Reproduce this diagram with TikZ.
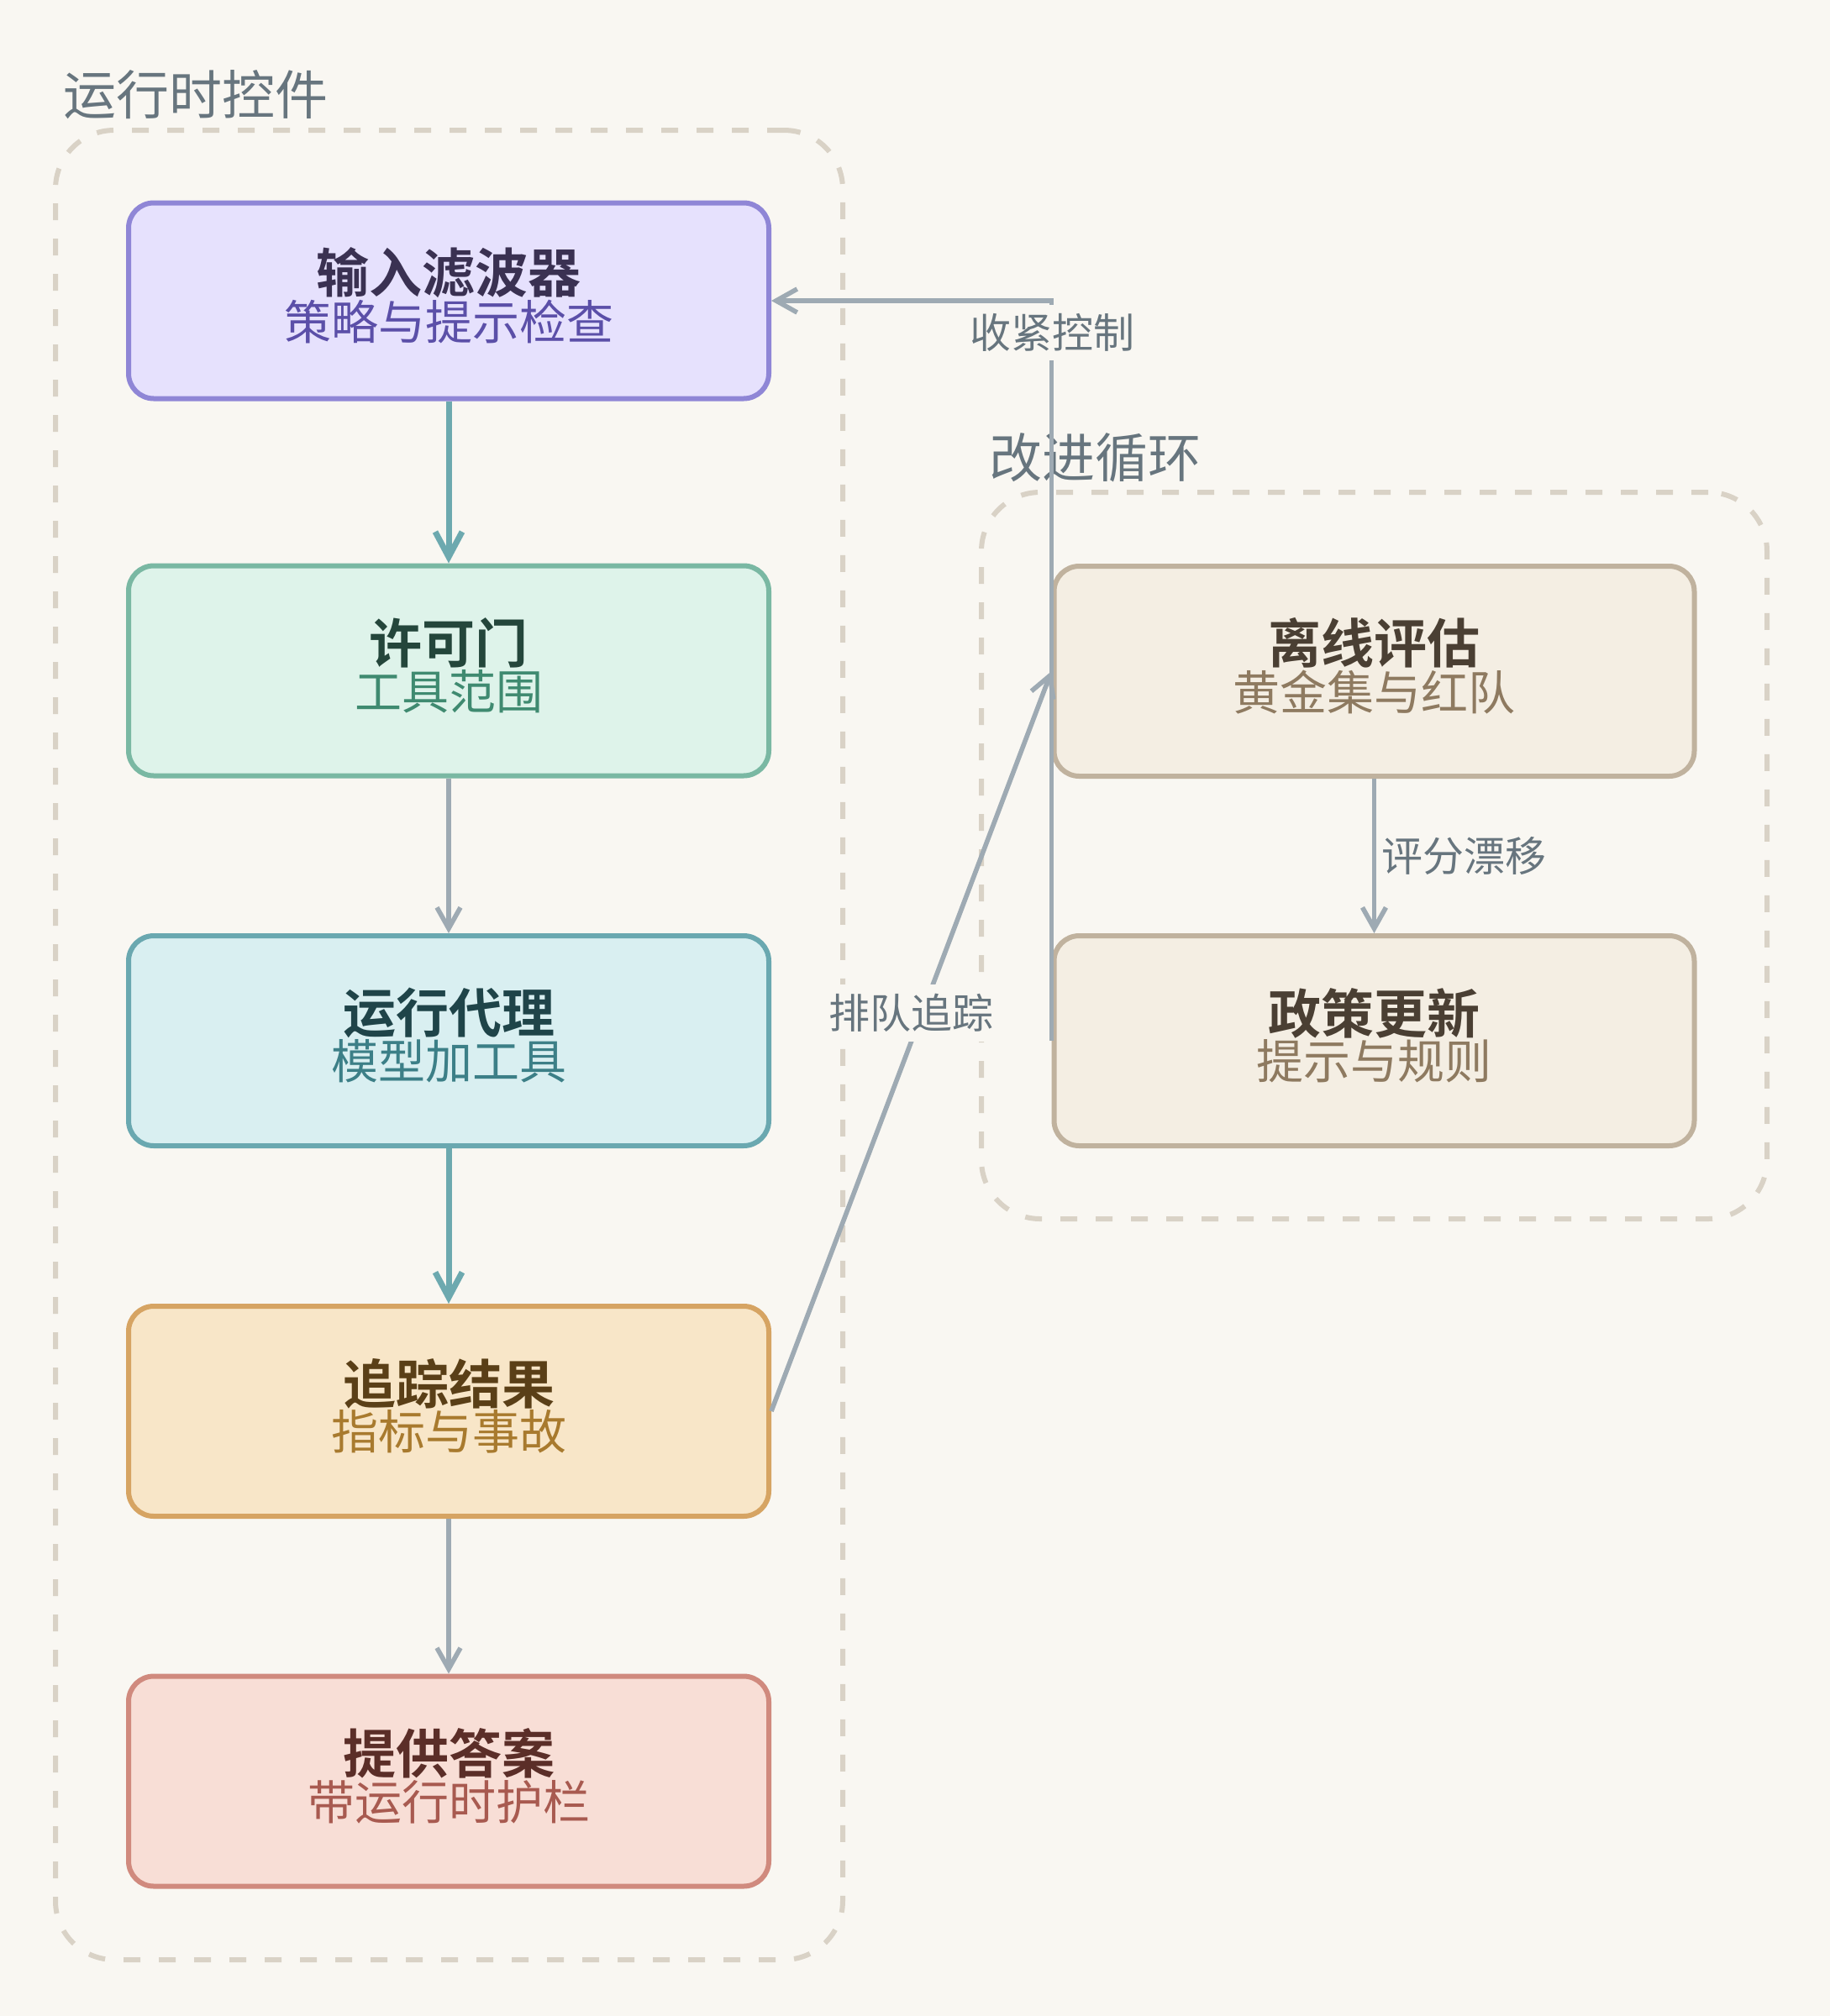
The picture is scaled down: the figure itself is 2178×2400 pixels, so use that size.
\documentclass[tikz,border=0pt]{standalone}
\usepackage{fontspec}
\setmainfont{Noto Sans CJK SC}[BoldFont={Noto Sans CJK SC Bold}]
\usetikzlibrary{arrows.meta}
\definecolor{bg}{HTML}{F9F7F2}
\definecolor{clus}{HTML}{D9D2C6}
\definecolor{lbl}{HTML}{67757E}
\definecolor{teal}{HTML}{6DA9AF}
\definecolor{grayedge}{HTML}{9EAAB3}
\definecolor{f1}{HTML}{E6E1FD}\definecolor{d1}{HTML}{8F86D6}\definecolor{t1}{HTML}{3A3152}\definecolor{s1}{HTML}{5B4FA8}
\definecolor{f2}{HTML}{DEF3EA}\definecolor{d2}{HTML}{7AB8A3}\definecolor{t2}{HTML}{24463B}\definecolor{s2}{HTML}{3F8A70}
\definecolor{f3}{HTML}{D9EFF1}\definecolor{d3}{HTML}{6AA8B0}\definecolor{t3}{HTML}{1F4449}\definecolor{s3}{HTML}{3C7F87}
\definecolor{f4}{HTML}{F8E6C8}\definecolor{d4}{HTML}{D6A463}\definecolor{t4}{HTML}{5A3F17}\definecolor{s4}{HTML}{A87A2E}
\definecolor{f5}{HTML}{F8DED6}\definecolor{d5}{HTML}{D08A7E}\definecolor{t5}{HTML}{5B2E28}\definecolor{s5}{HTML}{A85A50}
\definecolor{f6}{HTML}{F4EEE3}\definecolor{d6}{HTML}{C0B29E}\definecolor{t6}{HTML}{4A3F33}\definecolor{s6}{HTML}{8E7A60}
\newcommand{\boxtext}[4]{{\color{#1}\fontsize{31.5pt}{29pt}\selectfont\bfseries #2}\\{\color{#3}\fontsize{28pt}{29pt}\selectfont #4\rule[-8.5pt]{0pt}{0pt}}}
\begin{document}
\begin{tikzpicture}[x=0.5pt,y=-0.5pt,
  card/.style={rectangle, rounded corners=15pt, line width=3pt, minimum width=381pt, minimum height=125pt, align=center, inner sep=0pt},
  cluster/.style={rectangle, draw=clus, line width=3pt, dash pattern=on 10pt off 11pt, rounded corners=35pt, inner sep=0pt},
  ctitle/.style={anchor=west, text=lbl, font=\fontsize{31.5pt}{34pt}\selectfont, inner sep=0pt},
  elabel/.style={text=lbl, font=\fontsize{24.5pt}{26pt}\selectfont},
  tealarrow/.style={draw=teal, line width=3.5pt, -{Straight Barb[length=15pt,width=16pt]}},
  grayarrow/.style={draw=grayedge, line width=2.8pt, -{Straight Barb[length=12.5pt,width=14pt]}}]
\fill[bg] (0,0) rectangle (2178,2400);
\useasboundingbox (0,0) rectangle (2178,2400);
% clusters
\node[cluster, minimum width=468.5pt, minimum height=1089pt] (c1) at (534.5,1244) {};
\node[cluster, minimum width=467.5pt, minimum height=432.5pt] (c2) at (1635.5,1018.5) {};
\node[ctitle] (c1t) at (75,113) {运行时控件};
\node[ctitle] (c2t) at (1177,545) {改进循环};
% nodes
\node[card, fill=f1, draw=d1, minimum height=116.5pt] (n1) at (534,358) {\boxtext{t1}{输入滤波器}{s1}{策略与提示检查}};
\node[card, fill=f2, draw=d2] (n2) at (534,798.5) {\boxtext{t2}{许可门}{s2}{工具范围}};
\node[card, fill=f3, draw=d3] (n3) at (534,1239) {\boxtext{t3}{运行代理}{s3}{模型加工具}};
\node[card, fill=f4, draw=d4] (n4) at (534,1680) {\boxtext{t4}{追踪结果}{s4}{指标与事故}};
\node[card, fill=f5, draw=d5] (n5) at (534,2120.5) {\boxtext{t5}{提供答案}{s5}{带运行时护栏}};
\node[card, fill=f6, draw=d6] (n6) at (1635.5,799) {\boxtext{t6}{离线评估}{s6}{黄金集与红队}};
\node[card, fill=f6, draw=d6] (n7) at (1635.5,1239) {\boxtext{t6}{政策更新}{s6}{提示与规则}};
% edges
\draw[tealarrow] (n1) -- (n2);
\draw[grayarrow] (n2) -- (n3);
\draw[tealarrow] (n3) -- (n4);
\draw[grayarrow] (n4) -- (n5);
\draw[grayarrow] (n6) -- node[elabel, right] {评分漂移} (n7);
\draw[grayarrow] (n4.east) -- node[elabel, pos=0.5, yshift=17pt, fill=bg, inner xsep=1pt, inner ysep=0pt, minimum height=34pt] {排队追踪} (n6.west);
\coordinate (corner) at (n7.west |- n1.east);
\draw[grayarrow] (n7.west) -- (corner) -- (n1.east);
\node[elabel, fill=bg, inner xsep=2pt, inner ysep=0pt, minimum height=33pt] (tl) at (1252,396) {收紧控制};
\end{tikzpicture}
\end{document}
